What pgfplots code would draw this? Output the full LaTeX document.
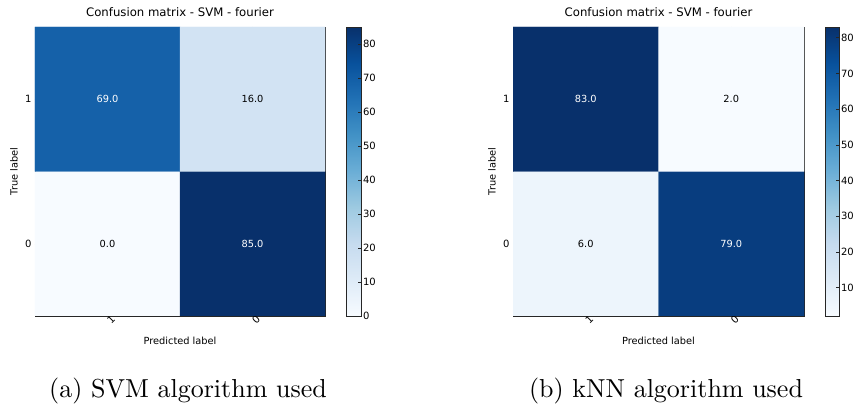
\documentclass[border=0pt]{standalone}
\usepackage{fontspec}
\usepackage{pgfplots}
\pgfplotsset{compat=1.18}
\newfontfamily\dejavu{DejaVu Sans}
\newfontfamily\capfont{lmroman10-regular}[Extension=.otf]
\pgfplotsset{
  colormap={blues}{rgb255(0)=(247,251,255) rgb255(1)=(222,235,247) rgb255(2)=(198,219,239) rgb255(3)=(158,202,225) rgb255(4)=(107,174,214) rgb255(5)=(66,146,198) rgb255(6)=(33,113,181) rgb255(7)=(8,81,156) rgb255(8)=(8,48,107)},
  cmstyle/.style={
    scale only axis, width=290pt, height=289pt,
    anchor=south west,
    xmin=-0.5, xmax=1.5, ymin=-0.5, ymax=1.5,
    xtick={0,1}, xticklabels={1,0},
    ytick={0,1}, yticklabels={0,1},
    tick align=inside, major tick length=4pt,
    axis line style={black!85}, every tick/.style={black!85},
    /pgf/number format/assume math mode=true,
    tick label style={font=\dejavu\fontsize{10}{12}\selectfont, text=black},
    xticklabel style={rotate=45, anchor=center, yshift=-5pt},
    title={Confusion matrix - SVM - fourier},
    title style={font=\dejavu\fontsize{11.7}{13}\selectfont, at={(axis description cs:0.5,1.031)}, anchor=center, text=black},
    xlabel={Predicted label},
    xlabel style={font=\dejavu\fontsize{9.8}{11}\selectfont, at={(axis description cs:0.5,-0.0848)}, anchor=center, text=black},
    ylabel={True label},
    ylabel style={font=\dejavu\fontsize{9.8}{11}\selectfont, at={(axis description cs:-0.0724,0.5)}, anchor=center, text=black},
    colormap name=blues,
    colorbar,
    colorbar style={
      at={(parent axis.north east)}, anchor=north west, xshift=13pt,
      scale only axis, width=15pt, height=289pt,
      tick align=inside, major tick length=4pt,
      axis line style={black!85},
      ytick pos=right, yticklabel pos=right,
      /pgf/number format/assume math mode=true,
      yticklabel style={font=\dejavu\fontsize{10}{12}\selectfont, text=black, xshift=-2pt},
    },
  },
  valnodes/.style={draw=none, mark=none, point meta=explicit symbolic, nodes near coords,
    every node near coord/.style={anchor=center, font=\dejavu\fontsize{9.8}{11}\selectfont, text=#1}},
}
\begin{document}
\begin{tikzpicture}[x=1pt,y=1pt]
\path[use as bounding box] (0,0) rectangle (856,406);
% ---- (a) SVM ----
\begin{axis}[cmstyle, at={(35pt,90pt)},
  point meta min=0, point meta max=85,
  colorbar style={ytick={0,10,...,80}}]
\addplot[matrix plot*, mesh/cols=2, point meta=explicit] table[meta=c] {
x y c
0 0 0
1 0 85
0 1 69
1 1 16
};
\addplot[valnodes=white] table[meta=t] {
x y t
0 1 69.0
1 0 85.0
};
\addplot[valnodes=black] table[meta=t] {
x y t
1 1 16.0
0 0 0.0
};
\end{axis}
% ---- (b) kNN ----
\begin{axis}[cmstyle, at={(513pt,90pt)}, width=291pt,
  point meta min=2, point meta max=83,
  colorbar style={ytick={10,20,...,80}, width=14pt}]
\addplot[matrix plot*, mesh/cols=2, point meta=explicit] table[meta=c] {
x y c
0 0 6
1 0 79
0 1 83
1 1 2
};
\addplot[valnodes=white] table[meta=t] {
x y t
0 1 83.0
1 0 79.0
};
\addplot[valnodes=black] table[meta=t] {
x y t
1 1 2.0
0 0 6.0
};
\end{axis}
\node[anchor=base, font=\capfont\fontsize{26}{30}\selectfont, inner sep=0pt] at (188,8) {(a) SVM algorithm used};
\node[anchor=base, font=\capfont\fontsize{26}{30}\selectfont, inner sep=0pt] at (666,8) {(b) kNN algorithm used};
\end{tikzpicture}
\end{document}
